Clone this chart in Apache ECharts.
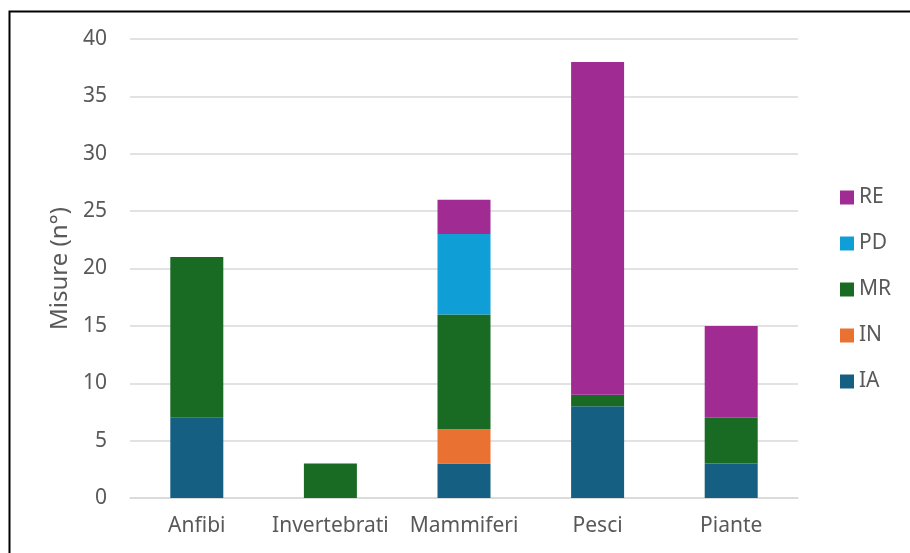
<!DOCTYPE html>
<html>
<head>
<meta charset="utf-8">
<style>html,body{margin:0;padding:0;background:#fff;}#c{width:910px;height:553px;}</style>
<script src="https://cdn.jsdelivr.net/npm/echarts@6/dist/echarts.min.js"></script>
</head>
<body>
<div id="c"></div>
<script>
const categories = ['Anfibi', 'Invertebrati', 'Mammiferi', 'Pesci', 'Piante'];
const IA = [7, 0, 3, 8, 3];
const IN = [0, 0, 3, 0, 0];
const MR = [14, 3, 10, 1, 4];
const PD = [0, 0, 7, 0, 0];
const RE = [0, 0, 3, 29, 8];
const yTicks = [0, 5, 10, 15, 20, 25, 30, 35, 40];
const legendOrder = ['RE', 'PD', 'MR', 'IN', 'IA'];

const colors = { IA: '#156082', IN: '#E97132', MR: '#196B24', PD: '#0F9ED5', RE: '#A02B93' };
const seriesData = { IA, IN, MR, PD, RE };
const FONT = 'Noto Sans';

const chart = echarts.init(document.getElementById('c'));
chart.setOption({
  animation: false,
  textStyle: { fontFamily: FONT },
  graphic: [{
    type: 'rect', left: 7, top: 9, shape: { width: 920, height: 570 },
    style: { fill: 'none', stroke: '#000', lineWidth: 2 }, silent: true
  }],
  grid: { left: 130, right: 112, top: 39, bottom: 55 },
  legend: {
    orient: 'vertical', left: 835, top: 182,
    data: legendOrder, itemWidth: 14, itemHeight: 14, itemGap: 25,
    icon: 'rect',
    textStyle: { fontSize: 21, color: '#595959', fontFamily: FONT, lineHeight: 20, padding: [0, 0, 0, 0] }
  },
  xAxis: {
    type: 'category', data: categories,
    axisLine: { show: true, lineStyle: { color: '#d9d9d9', width: 1.5 } },
    axisTick: { show: false },
    axisLabel: { fontSize: 21, color: '#595959', margin: 18, interval: 0, fontFamily: FONT }
  },
  yAxis: {
    type: 'value', min: yTicks[0], max: yTicks[yTicks.length - 1], interval: 5,
    name: 'Misure (n°)', nameLocation: 'middle', nameGap: 58, nameRotate: 90,
    nameTextStyle: { fontSize: 24, color: '#595959', fontFamily: FONT },
    axisLine: { show: false }, axisTick: { show: false },
    splitLine: { lineStyle: { color: '#d9d9d9', width: 1.5 } },
    axisLabel: { fontSize: 21, color: '#595959', margin: 23, fontFamily: FONT }
  },
  series: ['IA', 'IN', 'MR', 'PD', 'RE'].map(k => ({
    name: k, type: 'bar', stack: 'total', barWidth: 53,
    data: seriesData[k].map(v => v === 0 ? null : v),
    itemStyle: { color: colors[k] }
  }))
});
</script>
</body>
</html>
